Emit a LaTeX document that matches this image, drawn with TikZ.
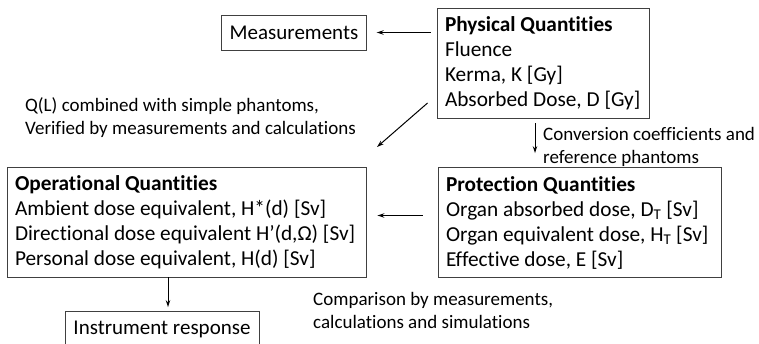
\documentclass[tikz,border=0pt]{standalone}
\usepackage{fontspec}
\setmainfont{Carlito}[Ligatures=NoCommon]
\usetikzlibrary{arrows.meta}

\tikzset{
    qbox/.style={draw=black!75, line width=0.9pt, align=flush left, inner xsep=8pt, inner ysep=0pt,
        minimum height=110pt, font=\fontsize{21.3}{25}\selectfont},
    sbox/.style={draw=black!75, line width=0.9pt, minimum height=35pt, inner xsep=8pt,
        font=\fontsize{21}{25}\selectfont},
    lbl/.style={align=flush left, anchor=west, inner sep=0pt, font=\fontsize{19}{23}\selectfont},
    conn/.style={->, >={Stealth[length=7pt,width=4.5pt]}, line width=1pt}
}

\begin{document}
\begin{tikzpicture}[x=1pt, y=-1pt]
        \useasboundingbox (0,0) rectangle (759,343);

        % Draw nodes
        \node[sbox, minimum width=144pt] (meas) at (294,32.5) {Measurements};
        \node[qbox, text width=196pt] (phys) at (543,63) {\textbf{Physical Quantities}\\Fluence\\Kerma, K [Gy]\\Absorbed Dose, D [Gy]};
        \node[qbox, text width=343pt] (oper) at (186.5,222) {\textbf{Operational Quantities}\\Ambient dose equivalent, H*(d) [Sv]\\Directional dose equivalent H’(d,Ω) [Sv]\\Personal dose equivalent, H(d) [Sv]};
        \node[qbox, text width=267pt] (prot) at (579.5,222.5) {\textbf{Protection Quantities}\\Organ absorbed dose, D\textsubscript{T} [Sv]\\Organ equivalent dose, H\textsubscript{T} [Sv]\\Effective dose, E [Sv]};
        \node[sbox, minimum width=194pt] (instr) at (162,329) {Instrument response};

        % Draw labels
        \node[lbl] (qltext) at (25,118) {Q(L) combined with simple phantoms,\\Verified by measurements and calculations};
        \node[lbl] (convtext) at (543,147) {Conversion coefficients and\\reference phantoms};
        \node[lbl] (comptext) at (313,310) {Comparison by measurements,\\calculations and simulations};
        \coordinate (qlend) at (377,147);

        % Draw connections
        \draw[conn, shorten <=6pt, shorten >=10pt] (phys.west |- meas.east) -- (meas.east);
        \draw[conn] ([shift={(-9pt,-40pt)}]phys.west) -- (qlend);
        \draw[conn, shorten <=5pt, shorten >=14pt] ([xshift=-8pt]phys.south) -- ([xshift=-8pt]phys.south |- prot.north);
        \draw[conn, shorten <=15pt, shorten >=11pt] ([yshift=7pt]prot.west) -- ([yshift=7pt]prot.west -| oper.east);
        \draw[conn, shorten >=4pt] ([xshift=6pt]instr.north |- oper.south) -- ([xshift=6pt]instr.north);
    \end{tikzpicture}
\end{document}
